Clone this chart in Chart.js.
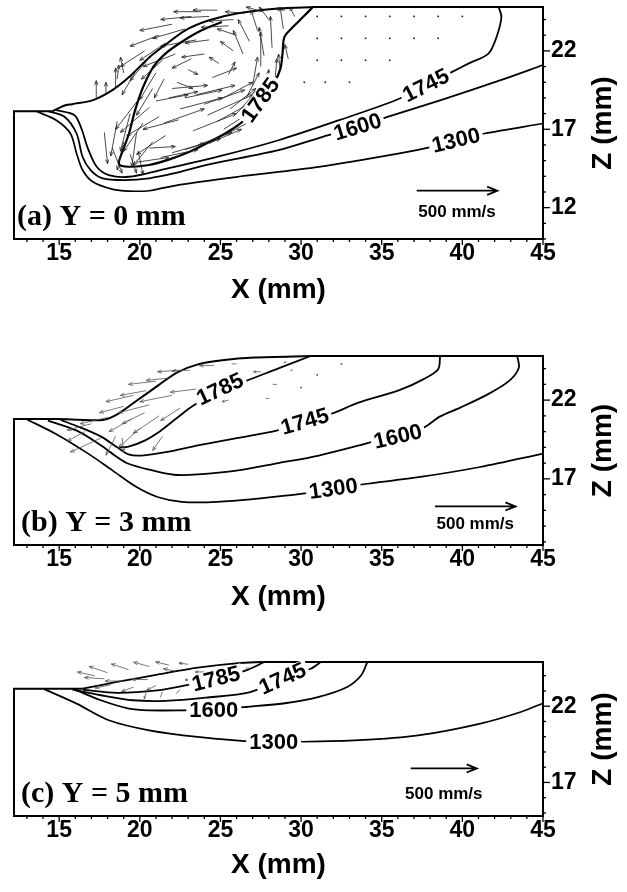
<!DOCTYPE html>
<html>
<head>
<meta charset="utf-8">
<script src="https://cdn.jsdelivr.net/npm/chart.js@4.4.1/dist/chart.umd.min.js"></script>
<style>
  html, body { margin: 0; padding: 0; background: #fff; }
  body { width: 627px; height: 892px; position: relative; overflow: hidden; }
  canvas { position: absolute; left: 0; }
</style>
</head>
<body>
<canvas id="panelA" width="627" height="307" style="top:0px"></canvas>
<canvas id="panelB" width="627" height="265" style="top:349px"></canvas>
<canvas id="panelC" width="627" height="227" style="top:655px"></canvas>
<script>
// valores: X y Z en mm, velocidades en mm/s
const xTicks = [15, 20, 25, 30, 35, 40, 45];
const zTicks = [12, 17, 22];
const refSpeed = 500;

// (a) Y = 0 mm
const plateA = [[12.2, 10], [12.2, 18.15], [14.6, 18.15]];
const surfA = [[14.6, 18.15], [15.3, 18.5], [15.8, 18.6], [17.1, 18.86], [18.3, 19.5], [19.3, 20.3], [20.6, 21.6], [21.6, 22.4], [22.8, 23.3], [24.3, 23.95], [26.1, 24.4], [28.6, 24.7], [30.8, 24.8]];
const topA = [[30.8, 24.8], [45, 24.8]];
const iso1300A = [[13.57, 18.15], [14.82, 17.58], [15.7, 16.73], [16.08, 15.46], [16.45, 14.4], [17.08, 13.65], [18.33, 13.17], [19.33, 13.06], [20.58, 13.08], [22.34, 13.44], [26.1, 13.97], [31.1, 14.6], [36.1, 15.46], [38.1, 15.88], [39.6, 16.3], [41.37, 16.73], [45, 17.37]];
const iso1600A = [[14.32, 18.15], [15.33, 17.8], [16.08, 16.73], [16.45, 15.25], [16.95, 14.4], [17.7, 13.87], [19.08, 13.76], [20.58, 13.87], [22.09, 14.18], [24.09, 14.72], [28.6, 15.67], [31.35, 16.52], [33.5, 17.15], [35.36, 17.79], [38.62, 18.85], [42.37, 20.13], [45, 21.1]];
const iso1745A = [[14.82, 18.22], [15.95, 17.9], [16.38, 17.05], [16.78, 15.78], [17.33, 14.61], [18.08, 14.08], [19.33, 13.97], [21.09, 14.35], [24.84, 15.25], [28.6, 16.3], [32.36, 17.58], [35.86, 18.85], [37.74, 19.8], [39.37, 20.66], [40.37, 21.19], [41.62, 21.83], [42.12, 22.89], [42.42, 24.16], [42.25, 24.8]];
const iso1785A = [[30.73, 24.8], [30.23, 24.27], [29.6, 23.63], [28.97, 22.89], [28.85, 21.83], [28.72, 20.87], [28.35, 20.02], [27.47, 18.86], [26.47, 17.58], [25.47, 16.84], [24.34, 16.2], [23.09, 15.56], [21.84, 15.08], [20.58, 14.72], [19.33, 14.61], [18.71, 14.78], [18.96, 15.67], [19.33, 16.73], [19.71, 18.22], [20.21, 19.7], [20.84, 20.98], [21.59, 21.83], [22.59, 22.57], [23.84, 23.31], [25.09, 23.84]];
const vecA = [
  [24.3, 24.2, -180, -10], [22.8, 23.4, -200, -60], [21.6, 22.5, -160, -110], [20.6, 21.6, -120, -150],
  [23.5, 22.7, -220, -40], [25.5, 23.6, -170, -10], [26.5, 24.4, -120, 10], [22.2, 21.8, -200, -80],
  [21.0, 20.6, -100, -170], [18.5, 19.6, 0, 130], [18.6, 20.2, 10, 90], [17.3, 19.0, 0, 110],
  [27.5, 21.0, 0, 220], [28.2, 22.2, -10, 200], [28.9, 23.4, -20, 140], [29.6, 24.2, -30, 60],
  [27.0, 19.8, 30, 180], [26.4, 21.8, -60, 150], [27.3, 23.3, -40, 130], [28.4, 20.3, 10, 120],
  [29.2, 21.5, -20, 90], [22.0, 19.6, 220, 20], [23.5, 19.2, 240, 60], [25.0, 18.9, 200, 110],
  [22.5, 18.3, 260, 70], [24.2, 17.9, 280, 130], [21.5, 17.4, 250, 90], [23.3, 16.9, 270, 110],
  [25.2, 17.0, 180, 120], [26.0, 18.0, 120, 140], [24.5, 20.3, 150, 60], [23.0, 20.8, 60, -30],
  [25.5, 20.5, 40, 80], [25.8, 22.0, -80, 60], [24.0, 21.8, -140, -20], [20.0, 19.0, -150, -200],
  [19.4, 18.0, -60, -240], [19.8, 16.8, -30, -220], [20.6, 18.4, -180, -160], [21.2, 17.8, -200, -120],
  [18.6, 17.5, -40, -220], [17.8, 16.8, 20, -200], [18.3, 15.8, 60, -160], [20.8, 16.2, -120, -150],
  [19.4, 15.4, 40, -120], [19.8, 14.9, 200, 30], [21.3, 15.2, 230, 50], [22.8, 15.7, 220, 70],
  [24.3, 16.1, 200, 90], [20.6, 15.8, 160, 10],
  [19.8, 20.8, -90, -160], [20.3, 22.0, -150, -100], [21.2, 23.0, -180, -70], [22.0, 23.7, -200, -40],
  [23.2, 24.2, -190, -20], [24.8, 24.6, -150, 0], [25.8, 24.0, -150, -10], [21.5, 20.2, -60, -120],
  [22.3, 20.0, 100, -40], [21.8, 19.0, 180, 40], [20.8, 19.6, -100, -170], [19.0, 16.2, -40, -180],
  [20.2, 17.4, -120, -180], [21.6, 16.6, -180, -120], [22.4, 17.6, -220, -60], [19.9, 15.6, 30, -150],
  [22.8, 19.0, 230, 50], [24.0, 18.6, 250, 90], [25.6, 18.3, 160, 130], [26.6, 19.0, 80, 160],
  [21.0, 18.8, 200, 40], [24.8, 17.5, 230, 130], [22.0, 15.5, 200, 60], [23.6, 16.0, 210, 80],
  [25.4, 16.7, 180, 100], [27.8, 19.3, 20, 150], [26.8, 22.6, -70, 140], [28.0, 24.0, -60, 80],
  [27.6, 24.5, -100, 30], [29.0, 24.6, -60, 10], [28.7, 20.8, -10, 100], [27.7, 21.7, -30, 180],
  [24.9, 21.2, -60, 40], [24.3, 22.7, -150, -20], [23.2, 21.5, -120, -60], [19.0, 20.6, -20, 100],
  [17.9, 19.2, 0, 80], [26.0, 23.0, -120, 40], [23.8, 24.5, -170, 0], [21.4, 21.4, -130, -120],
  [31.0, 24.2, -12, 0], [32.5, 24.2, -8, 0], [34.0, 24.2, -6, 0], [35.5, 24.2, -5, 0], [37.0, 24.2, -4, 0], [38.5, 24.2, -3, 0], [40.0, 24.2, -3, 0],
  [31.0, 22.8, -10, 4], [32.5, 22.8, -7, 3], [34.0, 22.8, -5, 2], [35.5, 22.8, -4, 0], [37.0, 22.8, -3, 0], [38.5, 22.8, -3, 0],
  [31.0, 21.4, -8, 6], [32.5, 21.4, -6, 4], [34.0, 21.4, -4, 2], [35.5, 21.4, -3, 0],
  [30.2, 20.0, -8, 8], [31.5, 20.0, -6, 5], [33.0, 20.0, -4, 3]
];

// (b) Y = 3 mm
const plateB = [[12.2, 12.8], [12.2, 20.8], [14.8, 20.8]];
const surfB = [[14.8, 20.8], [16.1, 20.76], [17.7, 20.74], [18.6, 21.1], [19.8, 21.96], [21.1, 22.9], [22.3, 23.75], [23.6, 24.27], [25.1, 24.53], [27.1, 24.7], [30.6, 24.8]];
const topB = [[30.6, 24.8], [45, 24.8]];
const iso1300B = [[12.95, 20.8], [14.8, 19.85], [16.8, 18.6], [18.3, 17.54], [19.8, 16.48], [21.1, 15.85], [22.6, 15.54], [24.8, 15.54], [27.35, 15.75], [30.1, 16.06], [32.0, 16.38], [34.1, 16.69], [37.4, 17.12], [41.1, 17.75], [45, 18.6]];
const iso1600B = [[43.4, 24.8], [43.5, 24.06], [42.9, 23.22], [41.6, 22.38], [39.9, 21.54], [38.6, 20.95], [37.6, 20.25], [36.0, 19.7], [34.4, 19.35], [33.6, 19.12], [31.1, 18.48], [28.6, 18.0], [26.1, 17.54], [23.6, 17.28], [22.1, 17.26], [20.6, 17.58], [19.3, 17.96], [18.6, 18.38], [17.6, 19.12], [16.1, 20.06], [14.3, 20.7]];
const iso1745B = [[38.62, 24.8], [38.5, 23.96], [37.6, 23.33], [36.1, 22.63], [33.6, 21.85], [31.85, 21.12], [30.2, 20.62], [28.6, 20.1], [26.1, 19.6], [23.6, 19.12], [21.6, 18.69], [20.1, 18.48], [19.3, 18.55], [18.6, 19.0], [17.6, 19.68], [16.3, 20.27], [15.1, 20.74]];
const iso1785B = [[30.6, 24.8], [28.6, 24.02], [26.6, 23.22], [25.0, 22.63], [23.3, 21.64], [22.3, 20.86], [21.3, 20.06], [20.3, 19.43], [19.3, 19.05], [18.7, 19.0]];
const vecB = [
  [19.0, 21.6, -150, -40], [20.4, 22.6, -160, -30], [21.8, 23.4, -140, -15], [23.1, 23.9, -110, -5],
  [24.6, 24.2, -90, 0], [20.6, 21.7, -190, -50], [22.0, 22.3, -200, -40], [23.5, 22.7, -160, -20],
  [21.2, 21.0, -160, -110], [22.5, 21.5, -120, -80], [20.0, 20.2, -130, -120], [18.5, 19.7, -60, -120],
  [18.9, 19.6, 10, -90], [17.6, 19.6, -190, -90], [16.6, 20.0, -110, -60], [21.4, 19.7, -60, -90],
  [26.5, 23.1, -60, 0], [27.5, 23.8, -45, 0], [28.5, 23.0, -25, 0], [29.5, 23.9, -18, 0],
  [28.0, 22.1, -18, 0], [30.0, 22.8, -10, 0], [25.5, 22.0, -40, -10],
  [17.0, 20.5, -150, -40], [18.0, 20.9, -170, -40], [19.6, 22.3, -170, -40], [21.0, 23.2, -170, -20],
  [22.5, 23.9, -140, -10], [19.5, 20.8, -140, -80], [20.3, 21.2, -140, -70],
  [26.0, 24.3, -30, 0], [29.0, 24.4, -12, 0], [31.0, 23.6, -8, 0], [32.5, 24.3, -6, 0]
];

// (c) Y = 5 mm
const plateC = [[12.2, 14.8], [12.2, 23.15], [16.45, 23.15]];
const surfC = [[16.45, 23.15], [18.58, 23.59], [21.09, 24.07], [23.59, 24.53], [26.1, 24.83], [27.6, 24.9]];
const topC = [[27.6, 24.9], [45, 24.9]];
const iso1300C = [[14.07, 23.12], [16.08, 22.17], [18.08, 21.08], [20.58, 20.42], [23.59, 19.99], [27.35, 19.66], [29.35, 19.66], [33.61, 19.77], [37.36, 20.1], [41.12, 20.86], [43.62, 21.62], [45, 22.2]];
const iso1600C = [[15.95, 23.1], [17.58, 22.39], [19.33, 21.84], [20.58, 21.73], [22.59, 21.73], [24.59, 21.78], [26.6, 21.95], [29.1, 22.21], [31.1, 22.61], [32.86, 23.26], [33.73, 24.03], [34.11, 24.9]];
const iso1745C = [[15.83, 23.09], [17.58, 22.72], [19.58, 22.39], [21.59, 22.35], [24.09, 22.56], [26.85, 22.93], [28.85, 23.81], [30.6, 24.46], [31.23, 24.9]];
const iso1785C = [[16.45, 23.09], [18.58, 22.88], [21.09, 23.04], [22.84, 23.37], [24.72, 23.81], [26.6, 24.35], [27.72, 24.9]];
const vecC = [
  [18.0, 24.2, -140, 50], [19.3, 24.4, -130, 45], [20.6, 24.6, -120, 35], [21.8, 24.7, -100, 25],
  [23.0, 24.75, -70, 10], [17.8, 23.8, -150, 10], [19.0, 23.65, -140, 0], [20.5, 23.75, -120, 0],
  [18.2, 23.4, -120, -25], [19.6, 23.25, -90, -35], [21.0, 23.35, -70, -35], [20.4, 22.9, -15, -50],
  [21.4, 22.95, -15, -45], [22.5, 23.1, -30, -35], [24.0, 24.25, -70, 0], [25.5, 24.5, -45, 0],
  [22.2, 24.3, -90, 20], [17.2, 24.0, -130, 30], [23.3, 23.8, -60, -10],
  [24.8, 24.0, -60, 0], [26.0, 24.7, -40, 5], [26.8, 24.5, -30, 0], [25.2, 23.5, -40, -20], [23.8, 23.5, -50, -15]
];

const SANS = '"Liberation Sans", Arial, sans-serif';
const SERIF = '"Liberation Serif", "Times New Roman", serif';

const panels = [
  {
    id: 'panelA', caption: '(a) Y = 0 mm', capX: 17, zMin: 10, zMax: 24.8, axisH: 68,
    lines: [[plateA, 2, 0], [surfA, 2, 0.3], [topA, 2, 0], [iso1300A, 1.7, 0.3], [iso1600A, 1.8, 0.3], [iso1745A, 1.8, 0.3], [iso1785A, 2.2, 0.3]],
    vectors: vecA, vScale: 100, vecColor: '#1a1a1a',
    labels: [['1785', 27.47, 18.86, 54], ['1745', 37.74, 19.8, 27], ['1600', 33.5, 17.15, 17], ['1300', 39.6, 16.3, 13]],
    ref: [37.17, 13.08, 26]
  },
  {
    id: 'panelB', caption: '(b) Y = 3 mm', capX: 21, zMin: 12.8, zMax: 24.8, axisH: 69,
    lines: [[plateB, 2, 0], [surfB, 2, 0.3], [topB, 2, 0], [iso1300B, 1.7, 0.3], [iso1600B, 1.8, 0.3], [iso1745B, 1.8, 0.3], [iso1785B, 1.8, 0.3]],
    vectors: vecB, vScale: 100, vecColor: '#555',
    labels: [['1785', 24.97, 22.7, 25], ['1745', 30.23, 20.65, 16], ['1600', 36.0, 19.7, 13], ['1300', 32.0, 16.38, 8]],
    ref: [38.3, 15.25, 23]
  },
  {
    id: 'panelC', caption: '(c) Y = 5 mm', capX: 21, zMin: 14.8, zMax: 24.9, axisH: 66,
    lines: [[plateC, 2, 0], [surfC, 1.8, 0.3], [topC, 2, 0], [iso1300C, 1.7, 0.3], [iso1600C, 1.8, 0.3], [iso1745C, 1.8, 0.3], [iso1785C, 1.8, 0.3]],
    vectors: vecC, vScale: 122, vecColor: '#555',
    labels: [['1785', 24.72, 23.81, 14], ['1745', 28.85, 23.81, 24], ['1600', 24.59, 21.75, 0], ['1300', 28.3, 19.66, 0]],
    ref: [36.8, 17.92, 31]
  }
];

function drawArrow(ctx, x0, y0, x1, y1, head) {
  const dx = x1 - x0, dy = y1 - y0;
  const len = Math.hypot(dx, dy);
  if (len < 2.5) {
    ctx.fillRect(x0 - 0.8, y0 - 0.8, 1.6, 1.6);
    return;
  }
  ctx.beginPath();
  ctx.moveTo(x0, y0);
  ctx.lineTo(x1, y1);
  if (len > 6) {
    const a = Math.atan2(dy, dx);
    const h = Math.min(head, len * 0.4);
    ctx.moveTo(x1 - h * Math.cos(a - 0.38), y1 - h * Math.sin(a - 0.38));
    ctx.lineTo(x1, y1);
    ctx.lineTo(x1 - h * Math.cos(a + 0.38), y1 - h * Math.sin(a + 0.38));
  }
  ctx.stroke();
}

function makeOverlay(p) {
  return {
    id: 'overlay',
    afterDatasetsDraw(chart) {
      const { ctx, chartArea: area, scales: { x, y } } = chart;
      const px = v => x.getPixelForValue(v);
      const py = v => y.getPixelForValue(v);
      ctx.save();

      // marcas de los ejes
      ctx.strokeStyle = '#000';
      ctx.lineWidth = 1.3;
      for (let v = 13; v <= 45; v++) {
        const len = v % 5 === 0 ? 6 : 3;
        ctx.beginPath();
        ctx.moveTo(px(v), area.bottom);
        ctx.lineTo(px(v), area.bottom + len);
        ctx.stroke();
      }
      for (let v = Math.ceil(p.zMin); v <= p.zMax; v++) {
        const len = zTicks.includes(v) ? 7 : 3;
        ctx.beginPath();
        ctx.moveTo(area.right, py(v));
        ctx.lineTo(area.right + len, py(v));
        ctx.stroke();
      }

      // vectores de velocidad
      ctx.strokeStyle = p.vecColor;
      ctx.fillStyle = p.vecColor;
      ctx.lineWidth = 0.8;
      p.vectors.forEach(([vx, vz, u, w]) => {
        drawArrow(ctx, px(vx), py(vz), px(vx + u / p.vScale), py(vz + w / p.vScale), 4.5);
      });

      // etiquetas de isotermas
      ctx.font = 'bold 22px ' + SANS;
      ctx.textAlign = 'center';
      ctx.textBaseline = 'middle';
      p.labels.forEach(([text, lx, lz, ang]) => {
        ctx.save();
        ctx.translate(px(lx), py(lz));
        ctx.rotate(-ang * Math.PI / 180);
        const w = ctx.measureText(text).width;
        ctx.fillStyle = '#fff';
        ctx.fillRect(-w / 2 - 3, -9, w + 6, 18);
        ctx.fillStyle = '#000';
        ctx.fillText(text, 0, 1);
        ctx.restore();
      });

      // flecha de referencia
      const [rx, rz, dy] = p.ref;
      const x0 = px(rx), x1 = px(rx + refSpeed / p.vScale), y0 = py(rz);
      ctx.strokeStyle = '#000';
      ctx.lineWidth = 1.8;
      drawArrow(ctx, x0, y0, x1, y0, 11);
      ctx.fillStyle = '#000';
      ctx.font = 'bold 17px ' + SANS;
      ctx.textBaseline = 'alphabetic';
      ctx.fillText(refSpeed + ' mm/s', (x0 + x1) / 2, y0 + dy);
      ctx.restore();
    },
    afterDraw(chart) {
      const { ctx, chartArea: area } = chart;
      ctx.save();
      ctx.fillStyle = '#000';
      ctx.font = 'bold 30px ' + SERIF;
      ctx.textAlign = 'left';
      ctx.textBaseline = 'alphabetic';
      ctx.fillText(p.caption, p.capX, area.bottom - 14);

      ctx.translate(603, (area.top + area.bottom) / 2);
      ctx.rotate(-Math.PI / 2);
      ctx.font = 'bold 28px ' + SANS;
      ctx.textAlign = 'center';
      ctx.textBaseline = 'middle';
      ctx.fillText('Z (mm)', 0, 0);
      ctx.restore();
    }
  };
}

function makePanel(p) {
  const datasets = p.lines.map(([pts, width, tension]) => ({
    data: pts.map(([x, z]) => ({ x, y: z })),
    showLine: true,
    borderColor: '#000',
    borderWidth: width,
    pointRadius: 0,
    tension,
    clip: 6,
    fill: false
  }));
  const tickFont = { family: SANS, size: 23, weight: 'bold', lineHeight: 1 };
  return new Chart(document.getElementById(p.id), {
    type: 'scatter',
    data: { datasets },
    options: {
      responsive: false,
      animation: false,
      layout: { padding: { left: 14, top: 7, right: 0, bottom: 0 } },
      plugins: { legend: { display: false }, tooltip: { enabled: false } },
      scales: {
        x: {
          type: 'linear', position: 'bottom', min: 12.2, max: 45,
          afterBuildTicks: s => { s.ticks = xTicks.map(v => ({ value: v })); },
          afterFit: s => { s.height = p.axisH; s.paddingLeft = 0; s.paddingRight = 0; },
          ticks: { font: tickFont, color: '#000', padding: 3, maxRotation: 0, autoSkip: false },
          grid: { display: false, drawTicks: false },
          border: { display: true, color: '#000', width: 2 },
          title: { display: true, text: 'X (mm)', color: '#000', padding: 0, font: { family: SANS, size: 28, weight: 'bold' } }
        },
        y: {
          type: 'linear', position: 'right', min: p.zMin, max: p.zMax,
          afterBuildTicks: s => { s.ticks = zTicks.filter(v => v >= p.zMin && v <= p.zMax).map(v => ({ value: v })); },
          afterFit: s => { s.width = 84; s.paddingTop = 0; s.paddingBottom = 0; },
          ticks: { font: tickFont, color: '#000', padding: 8 },
          grid: { display: false, drawTicks: false },
          border: { display: true, color: '#000', width: 2 }
        }
      }
    },
    plugins: [makeOverlay(p)]
  });
}

panels.forEach(makePanel);
</script>
</body>
</html>
